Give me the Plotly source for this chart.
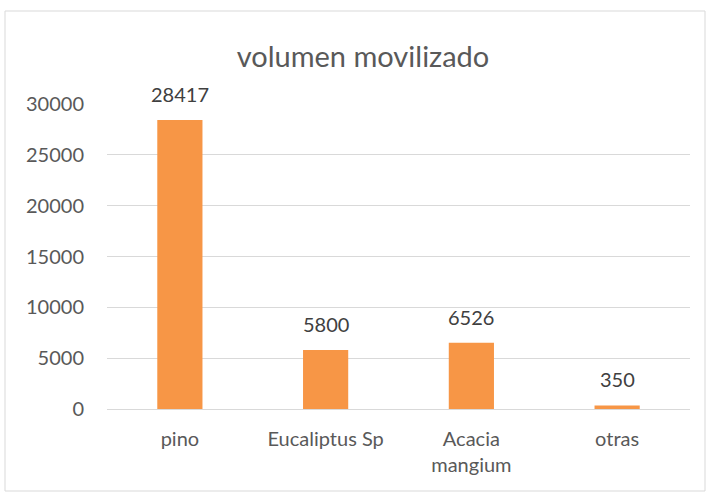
import plotly.graph_objects as go

categories = ["pino", "Eucaliptus Sp", "Acacia<br>mangium", "otras"]
values = [28417, 5800, 6526, 350]
y_ticks = [0, 5000, 10000, 15000, 20000, 25000, 30000]

L, R, T, B = 107, 20, 104, 87
W, H = 710, 496
pw, ph = W - L - R, H - T - B
FONT = "Lato"
WT = 400

fig = go.Figure(go.Bar(
    x=categories, y=values,
    marker=dict(color="#F79646", line=dict(width=0)),
    width=0.31, hoverinfo="x+y",
))

for c, v in zip(categories, values):
    fig.add_annotation(x=c, y=v, text=str(v), showarrow=False,
                       xref="x", yref="y", yanchor="bottom", yshift=12,
                       font=dict(family=FONT, size=20, color="#404040", weight=WT))

fig.update_layout(
    width=W, height=H,
    margin=dict(l=L, r=R, t=T, b=B),
    paper_bgcolor="white", plot_bgcolor="white",
    title=dict(text="volumen movilizado", x=363 / W, xanchor="center",
               y=1 - 57 / H, yanchor="middle",
               font=dict(family=FONT, size=29, color="#595959", weight=WT)),
    font=dict(family=FONT, size=20, color="#595959", weight=WT),
    xaxis=dict(showgrid=False, showline=False, ticks="", ticklabelstandoff=16,
               tickfont=dict(family=FONT, size=20, color="#595959", weight=WT)),
    yaxis=dict(range=[0, 30000], tickvals=y_ticks, ticktext=[str(v) for v in y_ticks],
               showgrid=True, gridcolor="#D9D9D9", gridwidth=1,
               zeroline=True, zerolinecolor="#D9D9D9", zerolinewidth=1,
               showline=False, ticks="", ticklabelstandoff=22,
               tickfont=dict(family=FONT, size=20, color="#595959", weight=WT)),
    showlegend=False,
    shapes=[dict(type="rect", xref="paper", yref="paper",
                 x0=(5 - L) / pw, x1=(705 - L) / pw,
                 y0=(H - B - 491) / ph, y1=(H - B - 11) / ph,
                 line=dict(color="#D9D9D9", width=1), fillcolor="rgba(0,0,0,0)",
                 layer="below")],
)

fig.write_html("out.html", config={"displayModeBar": False},
               post_script="document.body.style.margin='0';document.body.style.overflow='hidden';")
